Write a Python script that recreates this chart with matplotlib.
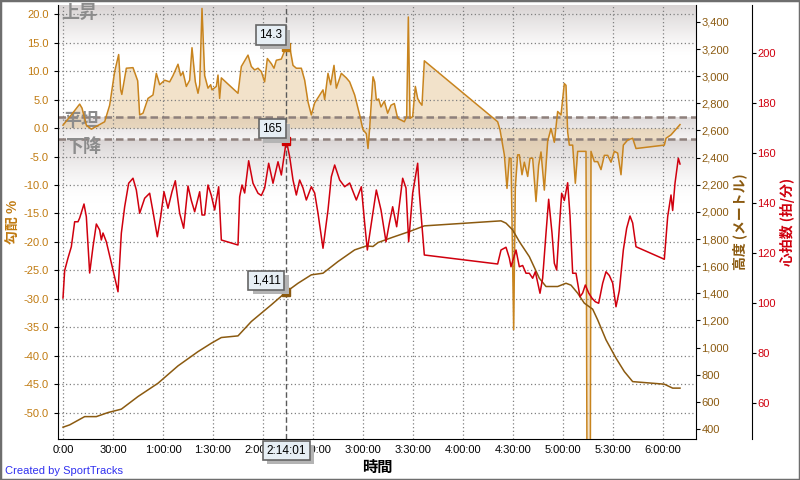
import numpy as np
import matplotlib
matplotlib.use("Agg")
import matplotlib.pyplot as plt
import matplotlib.patheffects as pe
from matplotlib.patches import Rectangle
from matplotlib.ticker import FuncFormatter, MultipleLocator

plt.rcParams['font.family'] = ['Liberation Sans', 'Noto Sans CJK JP', 'DejaVu Sans']
plt.rcParams['axes.unicode_minus'] = False

CJK = ['Noto Sans CJK JP', 'DejaVu Sans']

# gradient (%) vs elapsed minutes
grad_t = [0, 5, 10, 11.4, 14, 17, 25, 28, 31, 33.4, 34.6, 35.3, 38, 42, 44.8, 46, 48, 51, 54, 56,
          58, 61, 64, 66, 69, 70.6, 72, 74, 76, 77.4, 79.4, 81, 82, 83.4, 85, 87, 88.6, 89.4, 92, 93,
          94, 95, 105, 107, 111, 113, 115, 117, 119, 121, 122.6, 125, 126.6, 128, 131, 134, 136, 138,
          140, 143, 145, 147, 149, 151, 156, 157, 159, 160.6, 162.6, 164, 167, 170, 172, 175, 178,
          180, 182, 183, 184, 186, 187, 188, 189.4, 190.8, 192.8, 194.8, 196.8, 198.8, 200.8, 204.8,
          206.2, 207.2, 208.2, 209.8, 211.4, 212.8, 213.8, 215.4, 216.8, 260.8, 262.2, 264.8, 266.4,
          267.8, 268.8, 270.4, 271.4, 272.8, 273.8, 275.4, 276.8, 278.8, 280.2, 281.8, 283.8, 285.4,
          286.8, 288.8, 290.8, 292.8, 294.8, 296.8, 298.8, 300.8, 301.8, 302.8, 303.8, 305.8, 307.4,
          308.8, 310.8, 313.8, 314.4, 316.4, 316.8, 318.8, 320.8, 322.8, 324.8, 326.8, 328.8, 330.8,
          332.8, 334.8, 336.2, 338.8, 341.8, 343.8, 360.8, 361.8, 364.8, 370.2]
grad_v = [0.5, 2.3, 4.2, 3.5, 0.5, -0.2, 1.1, 4.0, 9.9, 12.9, 6.7, 5.9, 10.5, 10.6, 8.3, 2.3, 2.6, 5.2,
          5.8, 9.6, 7.6, 8.4, 8.1, 9.2, 11.2, 9.2, 9.8, 7.3, 8.4, 14.1, 8.1, 6.1, 7.6, 21.0, 9.2, 7.0,
          7.6, 6.7, 7.3, 9.3, 5.2, 8.8, 6.1, 10.8, 12.8, 10.8, 10.2, 10.5, 9.9, 8.1, 12.2, 11.3, 10.5,
          11.9, 12.1, 14.3, 14.3, 11.0, 10.5, 10.5, 8.4, 4.6, 2.3, 4.4, 6.7, 5.0, 9.6, 7.6, 11.0, 7.0,
          9.6, 8.8, 8.1, 5.8, 2.3, -0.3, -1.0, -3.6, 0.0, 9.0, 8.1, 4.9, 5.1, 3.7, 4.7, 2.6, 4.0, 4.3,
          1.7, 1.1, 2.0, 19.5, 1.7, 2.0, 7.3, 5.2, 4.6, 4.0, 11.8, 1.1, -0.3, -4.7, -10.6, -5.3, -5.3,
          -35.4, -10.3, -4.7, -4.7, -8.2, -6.0, -8.5, -5.3, -5.3, -12.9, -6.5, -4.2, -10.9, -2.3, -0.1,
          -2.5, 2.9, 2.3, 7.8, 7.5, -0.7, -3.0, -3.0, -9.7, -4.1, -4.1, -4.1, -60.0, -60.0, -4.1, -5.9,
          -5.9, -7.3, -4.8, -4.8, -6.0, -4.1, -4.4, -8.2, -3.0, -2.1, -1.8, -3.6, -3.0, -1.8, -1.2, 0.6]

# heart rate (bpm)
hr_t = [0, 1, 3, 5, 7, 9, 10, 12.6, 14, 16, 18, 20, 22, 23, 24, 26, 30, 33, 35, 37, 39.4, 42, 44, 46,
        49, 52, 54, 56.6, 58.6, 60.6, 63, 65.4, 67.4, 70, 72.4, 75, 77, 79, 82, 83.4, 85, 87, 89, 91,
        93.4, 95, 105, 106, 107.4, 109, 111.4, 114, 117, 119, 121, 123.4, 126, 129, 131, 134, 136, 138,
        140, 142, 144, 146, 149, 151, 153, 156, 159, 161, 163, 166, 169, 172, 176, 179, 181, 182.6, 185,
        188, 190.8, 193.8, 195.8, 197.8, 200.2, 203.8, 205.8, 207.4, 209.8, 212.8, 213.8, 216.8, 260.8,
        262.8, 265.8, 267.8, 268.8, 271.8, 273.8, 275.8, 277.8, 279.8, 281.8, 283.4, 286.2, 287.8,
        289.8, 291.4, 293.4, 294.8, 296.2, 297.8, 299.2, 300.8, 302.8, 304.2, 305.8, 307.8, 310.2,
        311.8, 313.4, 315.4, 317.4, 319.4, 321.4, 323.8, 325.8, 327.8, 329.8, 331.8, 333.8, 336.2,
        338.2, 340.2, 341.8, 343.8, 360.8, 362.8, 364.8, 365.8, 367.2, 369.2, 370.2]
hr_v = [102, 113, 118, 122.5, 132.5, 132.5, 134, 139.6, 134.5, 112, 122.5, 131.6, 129.2, 125.2, 128,
        124.5, 113.2, 104.5, 127.9, 138.5, 147.9, 149.9, 145.2, 135.9, 141.9, 143.9, 136.5, 126.5,
        134.5, 144.5, 137.9, 144.5, 148.9, 135.9, 129.9, 146.8, 141, 136.5, 144.5, 135.2, 135.2, 147.2,
        143, 137.2, 146.5, 125.2, 123.2, 142.5, 147.2, 144, 156.9, 147.9, 143.9, 143, 146, 155.9, 147.9,
        156.5, 151.2, 165, 158.5, 149.2, 143.2, 149.2, 146, 141.2, 146.5, 144, 135.9, 121.9, 137.2,
        150.5, 155.2, 149.2, 146.5, 148, 141.2, 146.5, 131.9, 121.2, 131.9, 145.2, 137.2, 124.5, 131.9,
        138.5, 130.5, 149.9, 146, 124.5, 143.9, 155.9, 144, 119.2, 115.6, 121.2, 122.3, 118, 114.5,
        121.2, 114.5, 115, 111.9, 111.9, 109.9, 112.5, 103.9, 110, 127.9, 141.5, 128, 115.9, 113.2,
        130.5, 143.9, 141, 148.1, 135, 111.9, 111.9, 102.5, 104, 107.2, 104, 101.9, 100.5, 99.9, 107.9,
        112.5, 111, 108, 98.5, 105, 121.2, 129.9, 134.8, 132, 122.5, 117.5, 134.5, 143.2, 137, 147.9,
        157.9, 155.6]

# elevation (m)
el_t = [0, 4, 13, 20, 27, 35, 45, 57, 69, 81, 89, 95, 105, 113, 125, 134, 141, 149, 156, 165, 175, 182,
        186, 189, 197.8, 207.8, 216.8, 262.8, 265.8, 269.8, 273.8, 279.8, 285.8, 289.8, 296.8, 301.8,
        304.8, 308.8, 312.8, 317.8, 320.8, 325.8, 331.8, 336.8, 341.8, 360.8, 365.8, 370.2]
el_v = [413, 430, 491, 491, 521, 546, 639, 737, 865, 970, 1032, 1074, 1086, 1192, 1315, 1411, 1474, 1536,
        1548, 1634, 1720, 1749, 1745, 1774, 1813, 1855, 1897, 1934, 1917, 1867, 1781, 1670, 1511, 1450,
        1450, 1474, 1460, 1401, 1327, 1283, 1204, 1057, 922, 823, 749, 730, 701, 701]

cursor_t = 134.02
cursor_label = "2:14:01"
cursor_grad, cursor_hr, cursor_el = 14.3, 165, 1411

T_LO, T_HI = -3, 379.8
G_LO, G_HI = -54.6, 21.6
E_LO, E_HI = 326, 3525
H_LO, H_HI = 45.6, 219.2

C_GRAD = '#C8841E'
C_FILL = '#E6C796'
C_HR = '#D0000E'
C_EL = '#8B5A10'
C_GRADTXT = '#C07A10'


def hms(m, pos=None):
    s = int(round(m * 60))
    h, r = divmod(s, 3600)
    mm, ss = divmod(r, 60)
    if h == 0:
        return f"{mm}:{ss:02d}" if mm else "0:00"
    return f"{h}:{mm:02d}:{ss:02d}"


def bg_shade(g):
    if g > 2:
        f = np.clip((g - 13) / (G_HI - 13), 0, 1) ** 1.2
    elif g >= -2:
        f = 0.25 + 0.6 * (g + 2) / 4
    else:
        f = np.clip(1 - (-2 - g) / 11, 0, 1) ** 1.6
    gray = np.array([0.85, 0.83, 0.83])
    return np.ones(3) * (1 - f) + gray * f


fig = plt.figure(figsize=(8, 4.8), dpi=100)
ax = fig.add_axes([58 / 800, 41 / 480, 638 / 800, 434 / 480])

gy = np.linspace(G_LO, G_HI, 500)
bg = np.array([bg_shade(g) for g in gy])[:, None, :]
ax.imshow(bg, extent=(T_LO, T_HI, G_LO, G_HI), origin='lower', aspect='auto',
          interpolation='bilinear', zorder=0)

ax.fill_between(grad_t, grad_v, 0, color=C_FILL, alpha=0.5, lw=0, zorder=1)
ax.plot(grad_t, grad_v, color=C_GRAD, lw=1.1, zorder=3)
for yy in (2, -2):
    ax.axhline(yy, color='#8E807C', lw=1.8, ls=(0, (3, 1.6)), zorder=2)

ax.set_xlim(T_LO, T_HI)
ax.set_ylim(G_LO, G_HI)
ax.xaxis.set_major_locator(MultipleLocator(30))
ax.xaxis.set_major_formatter(FuncFormatter(hms))
ax.yaxis.set_major_locator(MultipleLocator(5))
ax.yaxis.set_major_formatter(FuncFormatter(lambda v, p: f"{v:.1f}"))
ax.grid(True, color='#808080', ls=(0, (1, 2)), lw=0.9)
ax.tick_params(axis='x', length=0, pad=4, labelsize=8)
ax.tick_params(axis='y', length=3, labelsize=8, labelcolor=C_GRADTXT)
ax.spines['top'].set_visible(False)
ax.spines['right'].set_visible(False)
ax.set_ylabel('勾配 %', color=C_GRADTXT, fontsize=10, fontweight='bold', family=CJK, labelpad=2)
ax.set_xlabel('時間', fontsize=11, fontweight='bold', family=CJK, labelpad=3)

for x0, y0, s in ((-0.8, 21.9, '上昇'), (0, 3.0, '平坦'), (1.0, -1.6, '下降')):
    ax.text(x0, y0, s, ha='left', va='top', fontsize=13, fontweight='bold', color='#8C8C8C',
            family=CJK, zorder=2)

ax.axvline(cursor_t, color='#5A5A5A', lw=1, ls=(0, (4, 2)), zorder=4)

ax_el = ax.twinx()
ax_el.plot(el_t, el_v, color=C_EL, lw=1.1)
ax_el.set_ylim(E_LO, E_HI)
ax_el.yaxis.set_major_locator(MultipleLocator(200))
ax_el.yaxis.set_major_formatter(FuncFormatter(lambda v, p: f"{int(v):,}"))
ax_el.tick_params(axis='y', length=3, labelsize=8, labelcolor=C_EL, pad=1)
ax_el.set_ylabel('高度 (メートル)', color=C_EL, fontsize=10, fontweight='bold', family=CJK, labelpad=2)

ax_hr = ax.twinx()
ax_hr.spines['right'].set_position(('outward', 40))
ax_hr.plot(hr_t, hr_v, color=C_HR, lw=1.1)
ax_hr.set_ylim(H_LO, H_HI)
ax_hr.yaxis.set_major_locator(MultipleLocator(20))
ax_hr.tick_params(axis='y', length=3, labelsize=8, labelcolor=C_HR, pad=1)
ax_hr.set_ylabel('心拍数 (拍/分)', color=C_HR, fontsize=10, fontweight='bold', family=CJK, labelpad=3)
for a in (ax_el, ax_hr):
    a.spines['top'].set_visible(False)
    a.spines['left'].set_visible(False)
    a.spines['bottom'].set_visible(False)

ax_hr.plot(cursor_t, cursor_grad, 's', color='#C07A10', ms=6, transform=ax.transData)
ax_hr.plot(cursor_t, cursor_hr, 's', color='#D00000', ms=6)
ax_hr.plot(cursor_t, cursor_el, 's', color=C_EL, ms=6, transform=ax_el.transData)


def tag(text, xy, xycoords, off, ha, va):
    an = ax_hr.annotate(text, xy=xy, xycoords=xycoords, xytext=off, textcoords='offset points',
                        ha=ha, va=va, fontsize=8.5, color='black', zorder=10,
                        bbox=dict(boxstyle='square,pad=0.3', fc='#E6EEF4', ec='#666666', lw=1.2))
    an.get_bbox_patch().set_path_effects([
        pe.SimplePatchShadow(offset=(3, -3), shadow_rgbFace='#B4B4B4', alpha=1), pe.Normal()])


tag(f"{cursor_grad:.1f}", (cursor_t, cursor_grad), ax.transData, (-3, 4), 'right', 'bottom')
tag(f"{cursor_hr}", (cursor_t, cursor_hr), ax_hr.transData, (-3, 4), 'right', 'bottom')
tag(f"{cursor_el:,}", (cursor_t, cursor_el), ax_el.transData, (-4, 4), 'right', 'bottom')
tag(cursor_label, (cursor_t, 0), ('data', 'axes fraction'), (0, -4), 'center', 'top')

fig.text(5 / 800, 9 / 480, 'Created by SportTracks', color='#3030F0', fontsize=8, ha='left', va='center')
fig.patches.append(Rectangle((0, 0), 1, 1, transform=fig.transFigure, fill=False,
                             edgecolor='#6E6E6E', lw=2.5))

fig.savefig('out.png', dpi=100)
